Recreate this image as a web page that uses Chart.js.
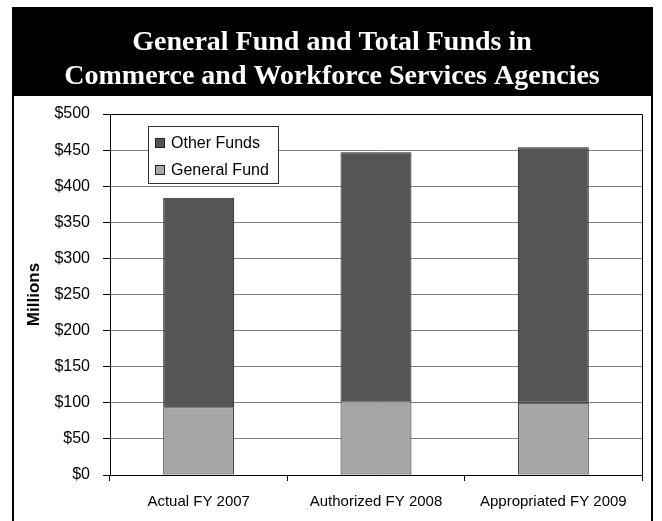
<!DOCTYPE html>
<html>
<head>
<meta charset="utf-8">
<script src="https://cdn.jsdelivr.net/npm/chart.js@4"></script>
<style>
  html, body { margin: 0; padding: 0; background: #fff; }
  #wrap { width: 662px; height: 521px; }
</style>
</head>
<body>
<div id="wrap"><canvas id="chart" width="662" height="521"></canvas></div>
<script>
// Fiscal years shown along the x axis
const categories = ['Actual FY 2007', 'Authorized FY 2008', 'Appropriated FY 2009'];
// Millions of dollars, stacked: General Fund at the bottom, Other Funds on top
const generalFund = [94, 102, 100];
const otherFunds = [290, 345, 354];
// Y axis range and tick step (millions)
const yMin = 0;
const yMax = 500;
const yStep = 50;
const titleLines = ['General Fund and Total Funds in', 'Commerce and Workforce Services Agencies'];
const yAxisTitle = 'Millions';

// Black title band and the outer frame around the figure
const framePlugin = {
  id: 'frame',
  beforeDraw(chart) {
    const ctx = chart.ctx;
    ctx.save();
    ctx.fillStyle = '#fff';
    ctx.fillRect(0, 0, chart.width, chart.height);
    ctx.fillStyle = '#000';
    ctx.fillRect(12, 7, 641, 89);
    ctx.fillRect(12, 95, 2, chart.height - 95);
    ctx.fillRect(651, 95, 2, chart.height - 95);
    ctx.fillStyle = '#fff';
    ctx.font = 'bold 28px "Liberation Serif", "Times New Roman", serif';
    ctx.textAlign = 'center';
    ctx.textBaseline = 'middle';
    ctx.fillText(titleLines[0], 332, 43);
    ctx.fillText(titleLines[1], 332, 77);
    ctx.restore();
  },
  afterDraw(chart) {
    // top and right edges of the plot box
    const a = chart.chartArea;
    const ctx = chart.ctx;
    ctx.save();
    ctx.strokeStyle = '#000';
    ctx.lineWidth = 1;
    ctx.beginPath();
    ctx.moveTo(a.left, a.top + 0.5);
    ctx.lineTo(a.right + 0.5, a.top + 0.5);
    ctx.lineTo(a.right + 0.5, a.bottom);
    ctx.stroke();
    ctx.restore();
  }
};

// Boxed legend sitting inside the plot area, top series listed first
const insideLegend = {
  id: 'insideLegend',
  afterDatasetsDraw(chart) {
    const ctx = chart.ctx;
    const x = 148, y = 126, w = 130, h = 57;
    ctx.save();
    ctx.fillStyle = '#fff';
    ctx.fillRect(x, y, w, h);
    ctx.strokeStyle = '#333';
    ctx.lineWidth = 1;
    ctx.strokeRect(x + 0.5, y + 0.5, w, h);
    const items = chart.data.datasets.map((d) => ({ label: d.label, color: d.backgroundColor })).reverse();
    ctx.font = '16px "Liberation Sans", Arial, sans-serif';
    ctx.textBaseline = 'middle';
    ctx.textAlign = 'left';
    items.forEach((it, i) => {
      const cy = 143 + i * 27;
      ctx.fillStyle = it.color;
      ctx.fillRect(156, cy - 4, 8, 8);
      ctx.strokeStyle = '#222';
      ctx.strokeRect(155.5, cy - 4.5, 9, 9);
      ctx.fillStyle = '#000';
      ctx.fillText(it.label, 171, cy + 1);
    });
    ctx.restore();
  }
};

new Chart(document.getElementById('chart'), {
  type: 'bar',
  data: {
    labels: categories,
    datasets: [
      {
        label: 'General Fund',
        data: generalFund,
        backgroundColor: '#a6a6a6',
        borderColor: '#222',
        borderWidth: 1,
        borderSkipped: false
      },
      {
        label: 'Other Funds',
        data: otherFunds,
        backgroundColor: '#555555',
        borderColor: '#222',
        borderWidth: 1,
        borderSkipped: false
      }
    ]
  },
  options: {
    responsive: false,
    animation: false,
    devicePixelRatio: 1,
    barPercentage: 0.4,
    categoryPercentage: 1.0,
    layout: { padding: { top: 114, right: 20, bottom: 0, left: 0 } },
    plugins: {
      legend: { display: false },
      title: { display: false },
      tooltip: { enabled: false }
    },
    scales: {
      x: {
        stacked: true,
        offset: true,
        afterFit(scale) { scale.height = 46; },
        grid: {
          display: true,
          offset: true,
          drawOnChartArea: false,
          drawTicks: true,
          tickLength: 6,
          tickColor: '#000'
        },
        border: { display: true, color: '#000', width: 1 },
        ticks: {
          color: '#000',
          padding: 12,
          maxRotation: 0,
          autoSkip: false,
          font: { family: '"Liberation Sans", Arial, sans-serif', size: 15 }
        }
      },
      y: {
        stacked: true,
        min: yMin,
        max: yMax,
        afterFit(scale) { scale.width = 110; },
        grid: {
          color: '#808080',
          lineWidth: 1,
          drawTicks: true,
          tickLength: 7,
          tickColor: '#000'
        },
        border: { display: true, color: '#000', width: 1 },
        ticks: {
          stepSize: yStep,
          color: '#000',
          padding: 13,
          font: { family: '"Liberation Sans", Arial, sans-serif', size: 16 },
          callback: (v) => '$' + v
        },
        title: {
          display: true,
          text: yAxisTitle,
          color: '#000',
          padding: { top: 24, bottom: 0 },
          font: { family: '"Liberation Sans", Arial, sans-serif', size: 17, weight: 'bold' }
        }
      }
    }
  },
  plugins: [framePlugin, insideLegend]
});
</script>
</body>
</html>
